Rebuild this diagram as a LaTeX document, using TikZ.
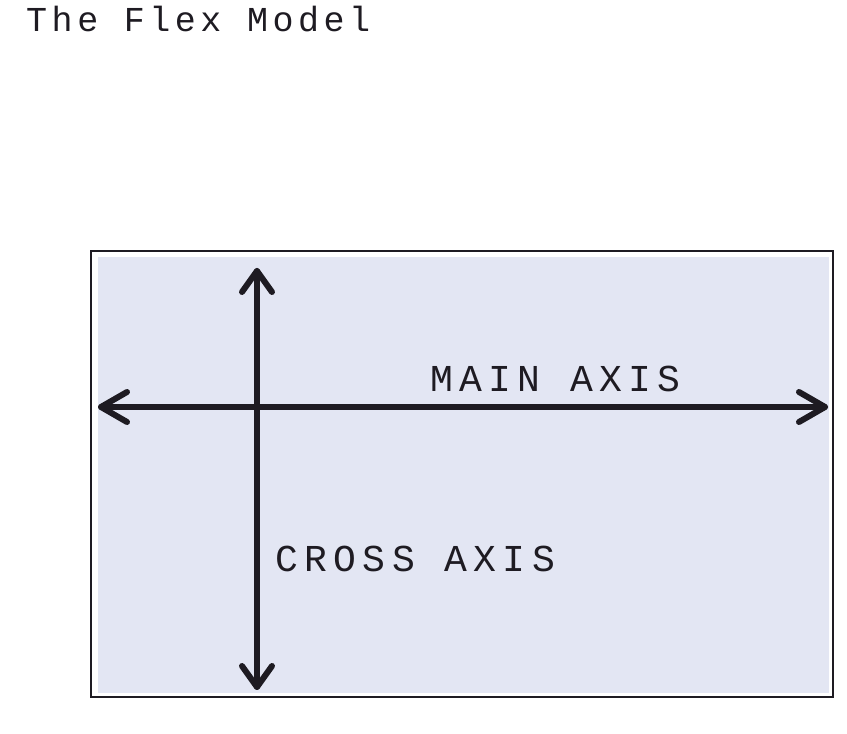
\documentclass[tikz,border=0pt]{standalone}
\usepackage{fontspec}
\usetikzlibrary{calc}
\newfontfamily\titlefont[LetterSpace=13]{Liberation Mono}
\newfontfamily\labelfont[LetterSpace=17]{Liberation Mono}
\begin{document}
\begin{tikzpicture}[x=1pt,y=1pt,
  axisline/.style={draw=inkc,line width=6pt,line cap=round,line join=round},
  lbl/.style={inner sep=0pt,anchor=base west,text=inkc,font=\labelfont\fontsize{38}{38}\selectfont},
  ttl/.style={inner sep=0pt,anchor=base west,text=inkc,font=\titlefont\fontsize{35}{35}\selectfont}]
\definecolor{inkc}{HTML}{1E1B22}
\definecolor{panel}{HTML}{E3E6F3}
\useasboundingbox (0,0) rectangle (847,734);
\fill[white] (0,0) rectangle (847,734);
% title
\node[ttl] (title) at (26,702) {The Flex Model};
% frame
\draw[inkc,line width=2pt] (91,37) rectangle (833,483);
\fill[panel] (98,41) rectangle (829,477);
% axis end points
\coordinate (L) at (101,327);
\coordinate (R) at (825,327);
\coordinate (T) at (257,463);
\coordinate (B) at (257,47);
\draw[axisline] (L) -- (R);
\draw[axisline] (T) -- (B);
\draw[axisline] ($(L)+(26,15)$) -- (L) -- ($(L)+(26,-15)$);
\draw[axisline] ($(R)+(-26,15)$) -- (R) -- ($(R)+(-26,-15)$);
\draw[axisline] ($(T)+(-15,-21)$) -- (T) -- ($(T)+(15,-21)$);
\draw[axisline] ($(B)+(-15,21)$) -- (B) -- ($(B)+(15,21)$);
% labels
\node[lbl] (main) at (430,342) {MAIN AXIS};
\node[lbl] (cross) at (275,162) {CROSS AXIS};
\end{tikzpicture}
\end{document}
